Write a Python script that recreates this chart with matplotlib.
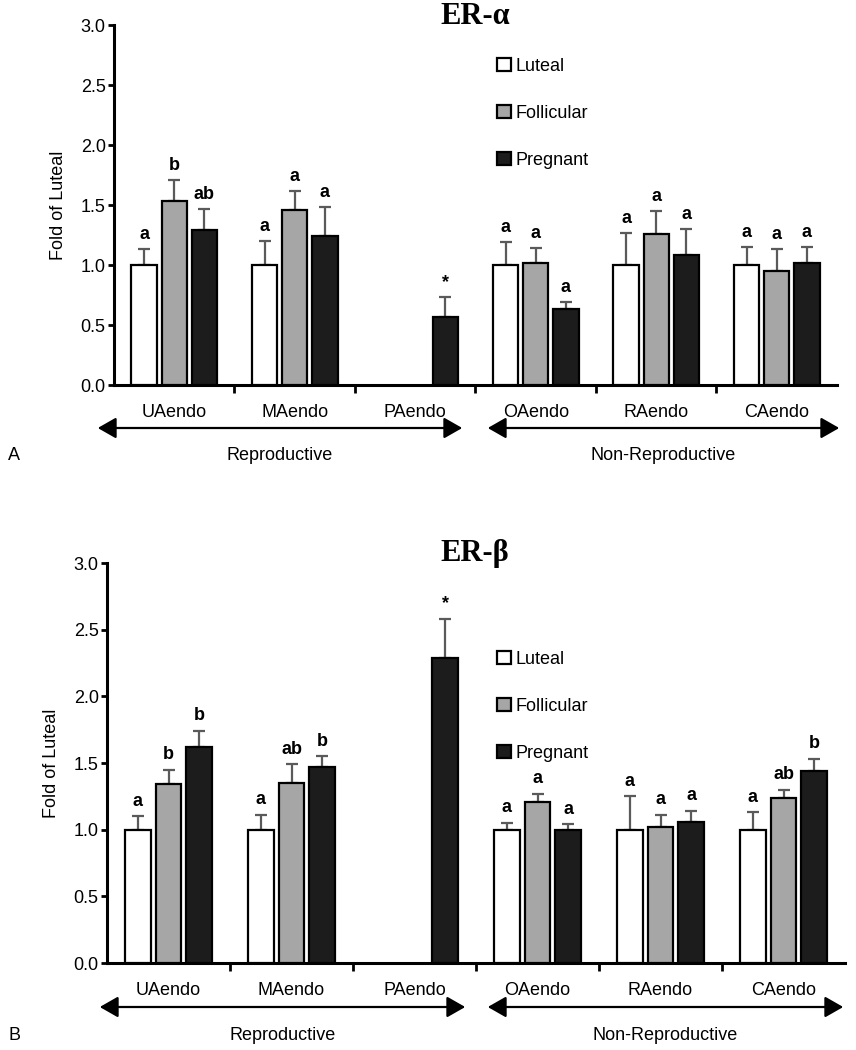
import matplotlib
matplotlib.use("Agg")
import matplotlib.pyplot as plt
import numpy as np

plt.rcParams['font.family'] = ['Liberation Sans', 'DejaVu Sans']

nan = np.nan
categories = ['UAendo', 'MAendo', 'PAendo', 'OAendo', 'RAendo', 'CAendo']
groups = ['Luteal', 'Follicular', 'Pregnant']

# ER-alpha
alpha_luteal = [1.0, 1.0, nan, 1.0, 1.0, 1.0]
alpha_luteal_err = [0.13, 0.20, nan, 0.19, 0.27, 0.15]
alpha_follicular = [1.53, 1.46, nan, 1.02, 1.26, 0.95]
alpha_follicular_err = [0.18, 0.16, nan, 0.12, 0.19, 0.18]
alpha_pregnant = [1.29, 1.24, 0.57, 0.63, 1.08, 1.02]
alpha_pregnant_err = [0.18, 0.24, 0.16, 0.06, 0.22, 0.13]
alpha_sig = [['a', 'a', '', 'a', 'a', 'a'],
             ['b', 'a', '', 'a', 'a', 'a'],
             ['ab', 'a', '*', 'a', 'a', 'a']]

# ER-beta
beta_luteal = [1.0, 1.0, nan, 1.0, 1.0, 1.0]
beta_luteal_err = [0.10, 0.11, nan, 0.05, 0.25, 0.13]
beta_follicular = [1.34, 1.35, nan, 1.21, 1.02, 1.24]
beta_follicular_err = [0.11, 0.14, nan, 0.06, 0.09, 0.06]
beta_pregnant = [1.62, 1.47, 2.29, 1.00, 1.06, 1.44]
beta_pregnant_err = [0.12, 0.08, 0.29, 0.04, 0.08, 0.09]
beta_sig = [['a', 'a', '', 'a', 'a', 'a'],
            ['b', 'ab', '', 'a', 'a', 'ab'],
            ['b', 'b', '*', 'a', 'a', 'b']]

colors = ['white', '#a6a6a6', '#1c1c1c']
W, H = 856, 1050


def fx(px):
    return px / W


def fy(py):
    return 1 - py / H


def draw_panel(ax, values, errs, sigs, legend_xy):
    x = np.arange(len(categories))
    offsets = [-0.25, 0.0, 0.25]
    for vals, err, sig, off, col, lab in zip(values, errs, sigs, offsets, colors, groups):
        ax.bar(x + off, vals, 0.21, color=col, edgecolor='black', linewidth=1.6,
               label=lab, zorder=3)
        ax.errorbar(x + off, vals, yerr=[np.zeros(len(vals)), err], fmt='none',
                    ecolor='#5a5a5a', elinewidth=1.6, capsize=4.5, capthick=1.6, zorder=2)
        for xi, v, e, s in zip(x + off, vals, err, sig):
            if s:
                ax.text(xi, v + e + 0.05, s, ha='center', va='bottom',
                        fontsize=13, fontweight='bold')
    ax.set_xlim(-0.5, 5.5)
    ax.set_ylim(0, 3.0)
    ax.set_yticks(np.arange(0, 3.01, 0.5))
    ax.set_yticklabels(['%.1f' % v for v in np.arange(0, 3.01, 0.5)], fontsize=13)
    ax.set_xticks(x)
    ax.set_xticklabels(categories, fontsize=13)
    ax.set_xticks(x[:-1] + 0.5, minor=True)
    ax.tick_params(axis='x', which='major', length=0, pad=14)
    ax.tick_params(axis='x', which='minor', length=6, width=2, direction='out')
    ax.tick_params(axis='y', length=4, width=2, direction='out', pad=2)
    ax.set_ylabel('Fold of Luteal', fontsize=13, labelpad=10)
    for s in ['top', 'right']:
        ax.spines[s].set_visible(False)
    for s in ['left', 'bottom']:
        ax.spines[s].set_linewidth(2.2)
    ax.legend(loc='upper left', bbox_to_anchor=legend_xy, bbox_transform=fig.transFigure,
              frameon=False, fontsize=13, handlelength=0.75, handleheight=0.75,
              handletextpad=0.3, labelspacing=1.65, borderpad=0, borderaxespad=0)


def arrows(y_arrow, y_text, spans, names):
    for (x0, x1), name in zip(spans, names):
        fig.add_artist(matplotlib.patches.FancyArrowPatch(
            (fx(x0), fy(y_arrow)), (fx(x1), fy(y_arrow)), transform=fig.transFigure,
            arrowstyle='<|-|>,head_length=7,head_width=4', mutation_scale=1.6,
            color='black', linewidth=1.6))
        fig.text(fx((x0 + x1) / 2), fy(y_text), name, ha='center', va='center', fontsize=13)


fig = plt.figure(figsize=(W / 100, H / 100), dpi=100)

ax1 = fig.add_axes([fx(114), fy(385), fx(837 - 114), (385 - 25) / H])
draw_panel(ax1, [alpha_luteal, alpha_follicular, alpha_pregnant],
           [alpha_luteal_err, alpha_follicular_err, alpha_pregnant_err],
           alpha_sig, (fx(497), fy(58)))
fig.text(fx(475), fy(17), 'ER-\u03b1', ha='center', va='center', fontsize=22,
         fontweight='bold', family=['Liberation Serif', 'DejaVu Serif'])
arrows(428, 455, [(95, 465), (485, 842)], ['Reproductive', 'Non-Reproductive'])
fig.text(fx(8), fy(455), 'A', ha='left', va='center', fontsize=13)

ax2 = fig.add_axes([fx(107), fy(963), fx(845 - 107), (963 - 563) / H])
draw_panel(ax2, [beta_luteal, beta_follicular, beta_pregnant],
           [beta_luteal_err, beta_follicular_err, beta_pregnant_err],
           beta_sig, (fx(497), fy(651)))
fig.text(fx(475), fy(553), 'ER-\u03b2', ha='center', va='center', fontsize=22,
         fontweight='bold', family=['Liberation Serif', 'DejaVu Serif'])
arrows(1007, 1035, [(97, 468), (485, 846)], ['Reproductive', 'Non-Reproductive'])
fig.text(fx(8), fy(1035), 'B', ha='left', va='center', fontsize=13)

fig.savefig('out.png', dpi=100)
